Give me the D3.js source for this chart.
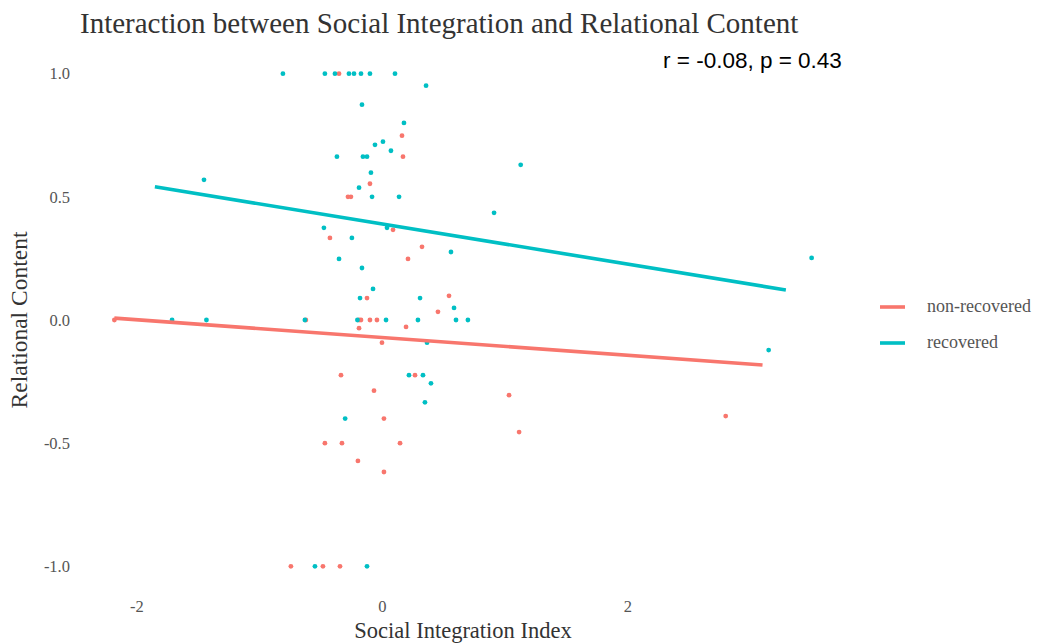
<!DOCTYPE html>
<html>
<head>
<meta charset="utf-8">
<script src="https://cdn.jsdelivr.net/npm/d3@7"></script>
<style>
  body { margin: 0; background: #fff; }
</style>
</head>
<body>
<svg id="chart" width="1041" height="644"></svg>
<script>
// points, [social integration, relational content]
const nonRecovered = [
  [-2.18, 0], [-0.35, 1.0], [0.163, 0.748], [0.171, 0.663], [-0.098, 0.553],
  [-0.277, 0.5], [-0.253, 0.5], [0.09, 0.366], [-0.424, 0.333], [0.326, 0.297],
  [0.212, 0.248], [-0.122, 0.089], [0.546, 0.098], [0.456, 0.033],
  [-0.62, 0], [-0.187, 0], [-0.171, 0], [-0.098, 0], [-0.041, 0],
  [-0.187, -0.033], [0.196, -0.028], [0.0, -0.092], [-0.334, -0.224], [0.269, -0.224],
  [-0.065, -0.287], [0.016, -0.40], [-0.465, -0.5], [-0.326, -0.5], [0.147, -0.5],
  [-0.196, -0.572], [0.016, -0.617], [1.035, -0.305], [1.117, -0.455], [2.80, -0.39],
  [-0.742, -1], [-0.481, -1], [-0.342, -1]
];
const recovered = [
  [-0.807, 1], [-0.465, 1], [-0.383, 1], [-0.269, 1], [-0.228, 1], [-0.171, 1], [-0.098, 1], [0.106, 1],
  [0.359, 0.951], [-0.163, 0.874], [0.179, 0.80], [0.008, 0.724], [-0.057, 0.711], [0.073, 0.687],
  [-0.367, 0.663], [-0.155, 0.663], [-0.122, 0.663], [-0.09, 0.598], [-0.187, 0.537],
  [-0.081, 0.5], [0.139, 0.5], [-0.473, 0.374], [0.041, 0.374], [-0.245, 0.333], [0.562, 0.276],
  [-0.35, 0.248], [-0.163, 0.211], [-0.073, 0.126], [-0.179, 0.089], [0.31, 0.089], [0.587, 0.049],
  [-1.45, 0.569], [1.13, 0.63], [0.913, 0.435], [3.50, 0.252], [3.15, -0.122],
  [-1.71, 0], [-1.43, 0], [-0.628, 0], [-0.2, 0], [0.033, 0], [0.293, 0], [0.603, 0], [0.70, 0],
  [0.367, -0.092], [0.22, -0.224], [0.334, -0.224], [0.399, -0.257], [0.35, -0.334], [-0.30, -0.40],
  [-0.546, -1], [-0.122, -1]
];
// lm fits: intercept, slope, x range
const fits = [
  {group: 'non-recovered', intercept: -0.071, slope: -0.036, from: -2.18, to: 3.10},
  {group: 'recovered', intercept: 0.390, slope: -0.0815, from: -1.85, to: 3.29}
];
const groups = ['non-recovered', 'recovered'];
const xTicks = [-2, 0, 2];
const yTicks = [-1, -0.5, 0, 0.5, 1];
const title = 'Interaction between Social Integration and Relational Content';
const statLabel = 'r = -0.08, p = 0.43';

const serif = '"Liberation Serif", "DejaVu Serif", serif';
const svg = d3.select('svg#chart');
const color = d3.scaleOrdinal().domain(groups).range(['#F8766D', '#00BFC4']);
const x = d3.scaleLinear().domain([-2.46, 3.78]).range([80, 846]);
const y = d3.scaleLinear().domain([-1.1, 1.1]).range([591, 49]);

svg.append('text')
  .attr('x', 80).attr('y', 33)
  .style('font-family', serif).style('font-size', '29px').attr('fill', '#333')
  .text(title);

// axes, no lines or grid; plain hyphen for negatives
const hy = f => d => f(d).replace('\u2212', '-');
const xAxis = svg.append('g')
  .attr('transform', 'translate(0,591)')
  .call(d3.axisBottom(x).tickValues(xTicks).tickSize(0).tickPadding(9).tickFormat(hy(d3.format('d'))));
const yAxis = svg.append('g')
  .attr('transform', 'translate(80,0)')
  .call(d3.axisLeft(y).tickValues(yTicks).tickSize(0).tickPadding(10).tickFormat(hy(d3.format('.1f'))));
[xAxis, yAxis].forEach(a => {
  a.select('.domain').remove();
  a.selectAll('text').style('font-family', serif)
    .style('font-size', '16.5px').attr('fill', '#555');
});

svg.append('text')
  .attr('x', 463).attr('y', 638)
  .attr('text-anchor', 'middle').style('font-family', serif).style('font-size', '22.5px').attr('fill', '#333')
  .text('Social Integration Index');
svg.append('text')
  .attr('transform', 'translate(27,320) rotate(-90)')
  .attr('text-anchor', 'middle').style('font-family', serif).style('font-size', '23.5px').attr('fill', '#333')
  .text('Relational Content');

const pts = svg.append('g');
[[nonRecovered, 'non-recovered'], [recovered, 'recovered']].forEach(([data, g]) => {
  pts.selectAll(null).data(data).enter().append('circle')
    .attr('cx', d => x(d[0])).attr('cy', d => y(d[1]))
    .attr('r', 2.4).attr('fill', color(g));
});

svg.append('g').selectAll('line').data(fits).enter().append('line')
  .attr('x1', d => x(d.from)).attr('y1', d => y(d.intercept + d.slope * d.from))
  .attr('x2', d => x(d.to)).attr('y2', d => y(d.intercept + d.slope * d.to))
  .attr('stroke', d => color(d.group)).attr('stroke-width', 3.6);

svg.append('text')
  .attr('x', 663).attr('y', 68)
  .style('font-family', '"Liberation Sans", Arial, sans-serif')
  .style('font-size', '22.5px').attr('fill', '#000')
  .text(statLabel);

// legend
const legend = svg.append('g').attr('transform', 'translate(880,307)');
const item = legend.selectAll('g').data(groups).enter().append('g')
  .attr('transform', (d, i) => `translate(0,${i * 36})`);
item.append('line').attr('x1', 0).attr('x2', 25)
  .attr('stroke', d => color(d)).attr('stroke-width', 3.6);
item.append('text').attr('x', 47).attr('y', 5)
  .style('font-family', serif).style('font-size', '18px').attr('fill', '#555')
  .text(d => d);
</script>
</body>
</html>
